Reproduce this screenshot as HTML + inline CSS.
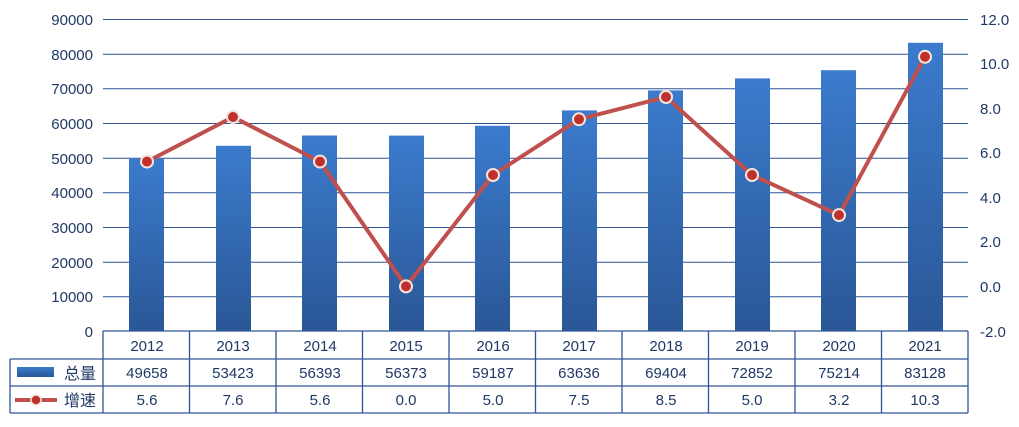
<!DOCTYPE html>
<html><head><meta charset="utf-8"><style>
html,body{margin:0;padding:0;background:#fff;}
svg text{font-family:"Liberation Sans","Noto Sans CJK SC",sans-serif;fill:#1F3864;}
</style></head><body>
<svg width="1019" height="422" viewBox="0 0 1019 422" xmlns="http://www.w3.org/2000/svg">
<defs>
<linearGradient id="g" x1="0" y1="0" x2="0" y2="1">
<stop offset="0" stop-color="#3B7BCD"/><stop offset="1" stop-color="#2A5796"/>
</linearGradient>
<linearGradient id="gl" x1="0" y1="0" x2="0" y2="1">
<stop offset="0" stop-color="#3B7BCD"/><stop offset="1" stop-color="#2A5796"/>
</linearGradient>
</defs>
<g stroke="#2F5597" stroke-width="1">
<line x1="103" y1="19.5" x2="968" y2="19.5"/>
<line x1="103" y1="54.2" x2="968" y2="54.2"/>
<line x1="103" y1="88.8" x2="968" y2="88.8"/>
<line x1="103" y1="123.5" x2="968" y2="123.5"/>
<line x1="103" y1="158.2" x2="968" y2="158.2"/>
<line x1="103" y1="192.8" x2="968" y2="192.8"/>
<line x1="103" y1="227.5" x2="968" y2="227.5"/>
<line x1="103" y1="262.2" x2="968" y2="262.2"/>
<line x1="103" y1="296.8" x2="968" y2="296.8"/>
</g>
<g font-size="15" text-anchor="end">
<text x="93" y="25">90000</text><text x="93" y="60">80000</text><text x="93" y="94">70000</text>
<text x="93" y="129">60000</text><text x="93" y="164">50000</text><text x="93" y="198">40000</text>
<text x="93" y="233">30000</text><text x="93" y="268">20000</text><text x="93" y="302">10000</text>
<text x="93" y="337">0</text>
</g>
<g font-size="15" text-anchor="start">
<text x="980" y="25">12.0</text><text x="980" y="69">10.0</text><text x="980" y="114">8.0</text>
<text x="980" y="158">6.0</text><text x="980" y="203">4.0</text><text x="980" y="247">2.0</text>
<text x="980" y="292">0.0</text><text x="980" y="337">-2.0</text>
</g>
<g fill="url(#g)">
<rect x="129" y="158.8" width="35" height="172.2"/>
<rect x="216" y="145.8" width="35" height="185.2"/>
<rect x="302" y="135.5" width="35" height="195.5"/>
<rect x="389" y="135.6" width="35" height="195.4"/>
<rect x="475" y="125.8" width="35" height="205.2"/>
<rect x="562" y="110.4" width="35" height="220.6"/>
<rect x="648" y="90.4" width="35" height="240.6"/>
<rect x="735" y="78.4" width="35" height="252.6"/>
<rect x="821" y="70.2" width="35" height="260.8"/>
<rect x="908" y="42.8" width="35" height="288.2"/>
</g>
<polyline fill="none" stroke="#C0504D" stroke-width="4" stroke-linejoin="round"
points="147,161.6 233,117.0 320,161.6 406,286.4 493,175.0 579,119.3 666,97.0 752,175.0 839,215.1 925,56.8"/>
<g fill="#C0302D" stroke="#F2E6DC" stroke-width="2">
<circle cx="147" cy="161.6" r="6"/><circle cx="233" cy="117.0" r="6"/><circle cx="320" cy="161.6" r="6"/>
<circle cx="406" cy="286.4" r="6"/><circle cx="493" cy="175.0" r="6"/><circle cx="579" cy="119.3" r="6"/>
<circle cx="666" cy="97.0" r="6"/><circle cx="752" cy="175.0" r="6"/><circle cx="839" cy="215.1" r="6"/>
<circle cx="925" cy="56.8" r="6"/>
</g>
<g stroke="#2F5597" stroke-width="1.3" fill="none">
<line x1="103" y1="331" x2="968" y2="331"/>
<line x1="10" y1="359" x2="968" y2="359"/>
<line x1="10" y1="386" x2="968" y2="386"/>
<line x1="10" y1="413" x2="968" y2="413"/>
<line x1="10" y1="359" x2="10" y2="413"/>
<line x1="103" y1="331" x2="103" y2="413"/>
<line x1="189.5" y1="331" x2="189.5" y2="413"/>
<line x1="276" y1="331" x2="276" y2="413"/>
<line x1="362.5" y1="331" x2="362.5" y2="413"/>
<line x1="449" y1="331" x2="449" y2="413"/>
<line x1="535.5" y1="331" x2="535.5" y2="413"/>
<line x1="622" y1="331" x2="622" y2="413"/>
<line x1="708.5" y1="331" x2="708.5" y2="413"/>
<line x1="795" y1="331" x2="795" y2="413"/>
<line x1="881.5" y1="331" x2="881.5" y2="413"/>
<line x1="968" y1="331" x2="968" y2="413"/>
</g>
<g font-size="15" text-anchor="middle">
<text x="147" y="351">2012</text><text x="233" y="351">2013</text><text x="320" y="351">2014</text>
<text x="406" y="351">2015</text><text x="493" y="351">2016</text><text x="579" y="351">2017</text>
<text x="666" y="351">2018</text><text x="752" y="351">2019</text><text x="839" y="351">2020</text>
<text x="925" y="351">2021</text>
<text x="147" y="378">49658</text><text x="233" y="378">53423</text><text x="320" y="378">56393</text>
<text x="406" y="378">56373</text><text x="493" y="378">59187</text><text x="579" y="378">63636</text>
<text x="666" y="378">69404</text><text x="752" y="378">72852</text><text x="839" y="378">75214</text>
<text x="925" y="378">83128</text>
<text x="147" y="405">5.6</text><text x="233" y="405">7.6</text><text x="320" y="405">5.6</text>
<text x="406" y="405">0.0</text><text x="493" y="405">5.0</text><text x="579" y="405">7.5</text>
<text x="666" y="405">8.5</text><text x="752" y="405">5.0</text><text x="839" y="405">3.2</text>
<text x="925" y="405">10.3</text>
</g>
<rect x="17" y="367" width="37" height="10" fill="url(#gl)"/>
<text x="64" y="379" font-size="16">总量</text>
<line x1="15" y1="400" x2="57" y2="400" stroke="#C0504D" stroke-width="4"/>
<circle cx="36" cy="400" r="5" fill="#C0302D" stroke="#F2E6DC" stroke-width="1.5"/>
<text x="64" y="406" font-size="16">增速</text>
</svg>
</body></html>
